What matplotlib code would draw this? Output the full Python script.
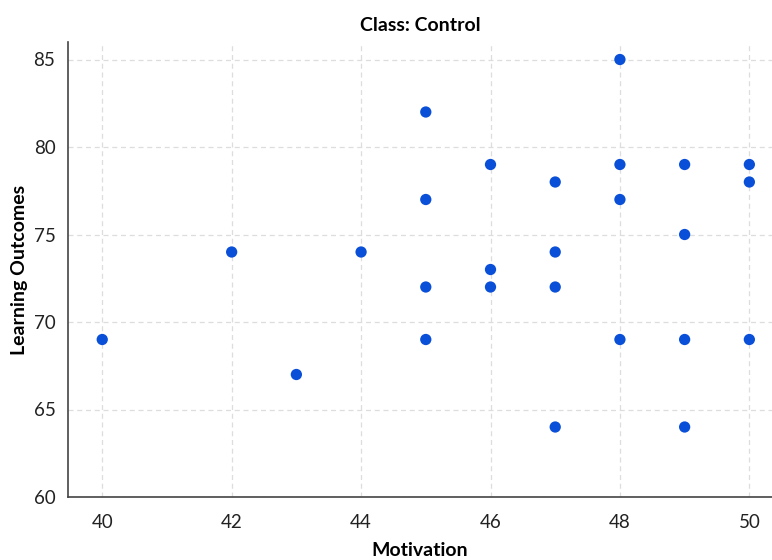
import matplotlib
matplotlib.use("Agg")
import matplotlib.pyplot as plt

motivation = [40, 42, 43, 44, 45, 45, 45, 45, 46, 46, 46, 47, 47, 47, 47,
              48, 48, 48, 48, 49, 49, 49, 49, 50, 50, 50]
outcomes = [69, 74, 67, 74, 82, 77, 72, 69, 79, 73, 72, 78, 74, 72, 64,
            85, 79, 77, 69, 79, 75, 69, 64, 79, 78, 69]
x_ticks = [40, 42, 44, 46, 48, 50]
y_ticks = [60, 65, 70, 75, 80, 85]

plt.rcParams['font.family'] = ['Lato', 'DejaVu Sans']

fig = plt.figure(figsize=(7.72, 5.6), dpi=100)
ax = fig.add_axes([0.088, 0.1125, 0.912, 0.8125])

ax.scatter(motivation, outcomes, s=66, color='#0a4fd8', edgecolors='none', zorder=3)

ax.set_xlim(39.47, 50.35)
ax.set_ylim(60, 86.0)
ax.set_xticks(x_ticks)
ax.set_yticks(y_ticks)
ax.tick_params(axis='both', length=0, labelsize=13.5, colors='#222222')
ax.tick_params(axis='x', pad=12)
ax.tick_params(axis='y', pad=9)

ax.grid(True, linestyle=(0, (4, 3)), color='#dddddd', linewidth=0.9)
ax.set_axisbelow(True)

for s in ['top', 'right']:
    ax.spines[s].set_visible(False)
for s in ['left', 'bottom']:
    ax.spines[s].set_color('#444444')
    ax.spines[s].set_linewidth(1.2)

ax.set_title('Class: Control', fontsize=14, fontweight='bold', pad=8)
ax.set_xlabel('Motivation', fontsize=14, fontweight='bold', labelpad=8)
ax.set_ylabel('Learning Outcomes', fontsize=14, fontweight='bold', labelpad=4)

fig.savefig('out.png', dpi=100)
